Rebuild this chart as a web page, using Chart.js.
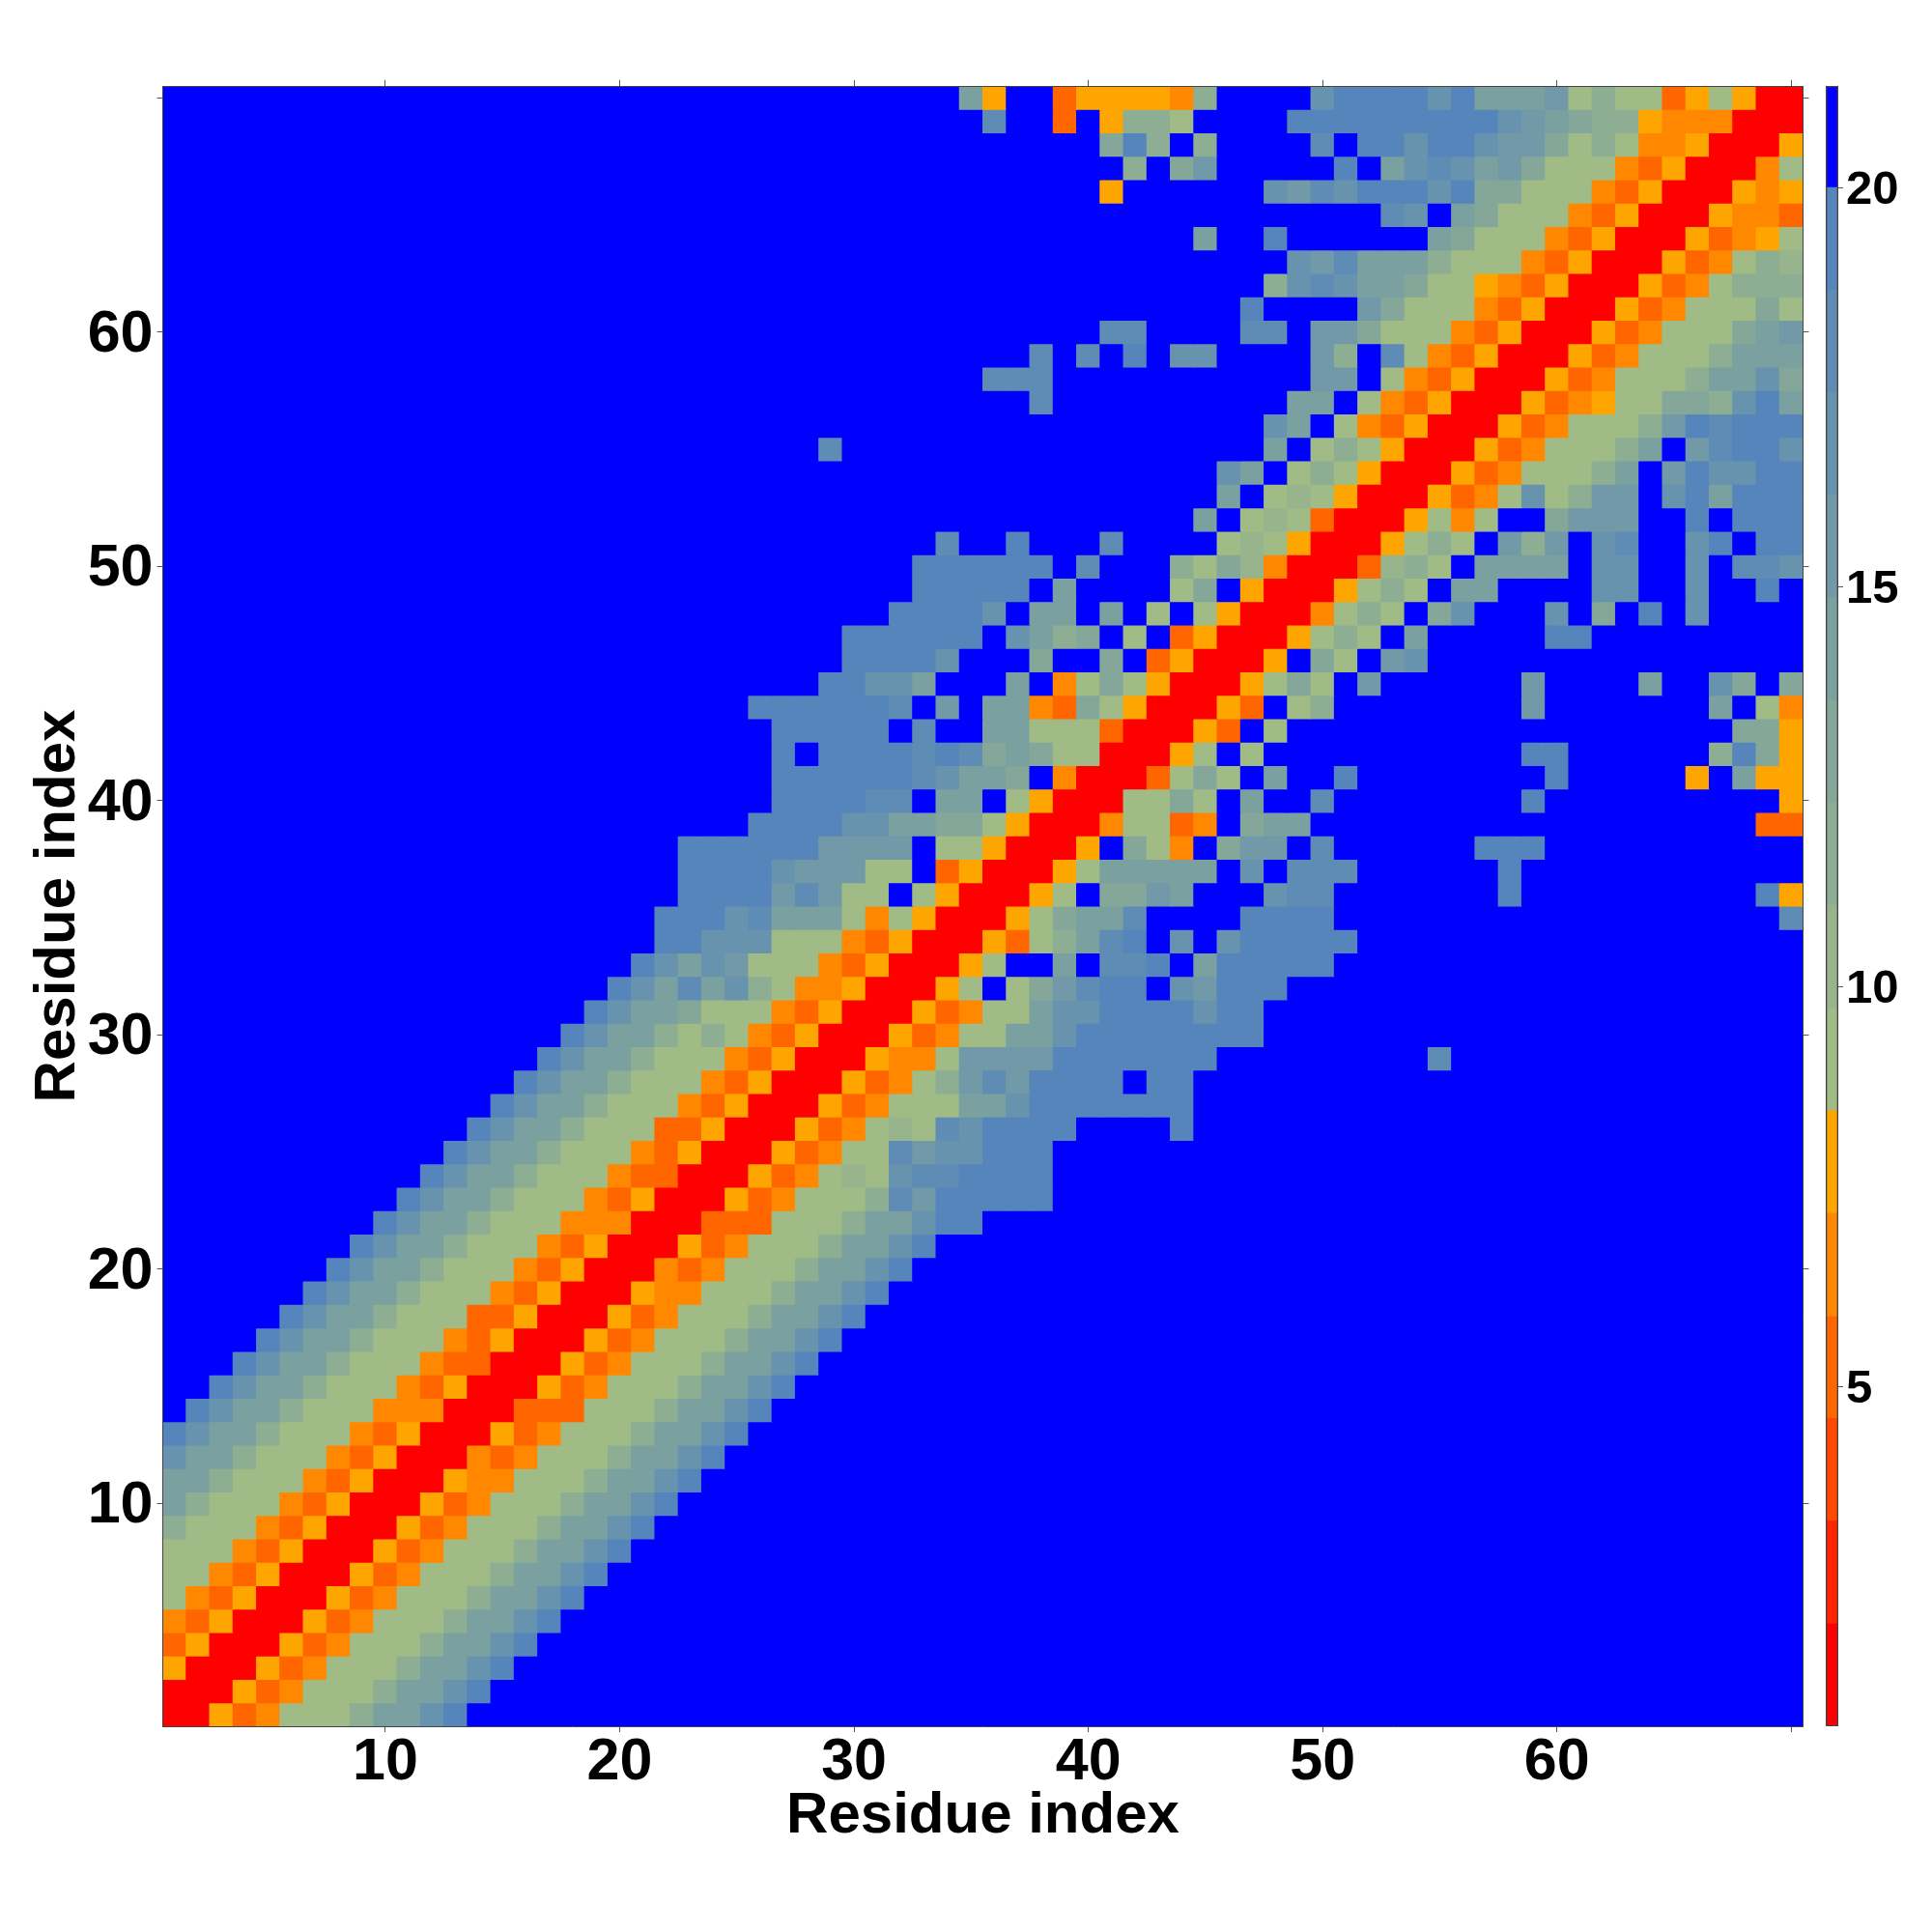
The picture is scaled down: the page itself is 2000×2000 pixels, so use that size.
<!DOCTYPE html>
<html>
<head>
<meta charset="utf-8">
<title>Residue distance map</title>
<script src="https://cdn.jsdelivr.net/npm/chart.js@4"></script>
<style>
html,body{margin:0;padding:0;background:#fff}
#wrap{position:relative;width:2000px;height:2000px;overflow:hidden;background:#fff}
#map{position:absolute;left:0;top:0}
#bar{position:absolute;left:1890px;top:0}
</style>
</head>
<body>
<div id="wrap">
<canvas id="map" width="2000" height="2000"></canvas>
<canvas id="bar" width="110" height="2000"></canvas>
</div>
<script>
/* Tick values and labels */
const axisTicks = [10,20,30,40,50,60,70];
const axisLabels = [10,20,30,40,50,60];
const colorbarTicks = [5,10,15,20];
const axisTitle = "Residue index";

/* Colour bands, lowest distance first */
const bandEdges = [0.75,2.03,3.32,4.60,5.88,7.17,8.45,9.73,11.02,12.30,13.58,14.87,16.15,17.43,18.72,20.00,21.27];
const bandColors = ["#ff0000","#ff2400","#ff4800","#ff6600","#ff8800","#ffa500","#a0bb85","#97b48c","#8dae92","#84a799","#7aa0a0","#7199a7","#6793ae","#5e8cb4","#5585bb","#0000ff"];
/* One letter per band in the row strings below, each with the band's central distance */
const bandLetters = "R?xDMAghijklmnoB";
const bandValues = [1.39,2.67,3.96,5.24,6.52,7.81,9.09,10.37,11.66,12.94,14.22,15.51,16.79,18.08,19.36,20.63];

/* Rows of the map. "column:letters"; cells not listed are beyond 20 (band B). */
const row01 = "1:RRADMgggikkmo";
const row02 = "1:RRRADMgggikkmo";
const row03 = "1:ARRRADMgggikkmo";
const row04 = "1:DARRRADMgggikkmo";
const row05 = "1:MDARRRADMgggikkmo";
const row06 = "1:gMDARRRADMgggikkmo";
const row07 = "1:ggMDARRRADMgggikkmo";
const row08 = "1:gggMDARRRADMgggikkmo";
const row09 = "1:igggMDARRRADMgggikkmo";
const row10 = "1:kigggMDARRRADMgggikkmo";
const row11 = "1:kkigggMDARRRAMMgggikkmo";
const row12 = "1:mkkigggMDARRRMDMgggikkmo";
const row13 = "1:omkkigggMDARRRADMgggikkmo";
const row14 = "2:omkkigggMMMRRRDDDgggikkmo";
const row15 = "3:omkkigggMDARRRADMgggikkmo";
const row16 = "4:omkkigggMDDRRRADMgggikkmo";
const row17 = "5:omkkigggMDARRRADMgggikkmo";
const row18 = "6:omkkigggDDARRRADMgggikkmo";
const row19 = "7:omkkigggMDARRRAMMgggikkmo";
const row20 = "8:omkkigggMDARRRMDMgggikkmo";
const row21 = "9:omkkigggMDARRRADMgggikkmo";
const row22 = "10:omkkigggMMMRRRDDDgggikkmoo";
const row23 = "11:omkkigggMDARRRADMggginlooooo";
const row24 = "12:omkkigggMDDRRRADMghgmnnoooo";
const row25 = "13:omkkigggMDARRRADMggnlmmooo";
const row26 = "14:omkkigggDDARRRADMghgnmoooo 44:o";
const row27 = "15:omkkigggMDARRRADMgggkkmooooooo";
const row28 = "16:omkkigggMDARRRADMgilnlooooBoo";
const row29 = "17:omkkigggMDARRRAMMgllllooooooo 55:n";
const row30 = "18:omkkigigMDARRRADMggkkmoooooooo";
const row31 = "19:omkkjgggMDARRRADMggkmmoooomoo";
const row32 = "20:omknkmigMMARRRAgBgjlnooBmlooo";
const row33 = "21:omkmlgggMDARRRAgBBkBnnoBkooooo";
const row34 = "22:oommmgggMDARRRADgiknoBmBmooooo";
const row35 = "22:ooomnkkkgMgARRRAgjkknBBBBoooo 70:n";
const row36 = "23:oooolnlggBgARRRAgBjjlkBBBmnn 58:o 69:oA";
const row37 = "23:oooomlllggBDARRRAgkkkkkBmBnnn 58:o";
const row38 = "23:oooooollllBggARRRABjgMBjllBn 57:ooo";
const row39 = "26:oooommkkjjgARRRMggDMBjkk 69:DD";
const row40 = "27:oooonnBkkBgARRRggjgBkBBn 59:o 70:A";
const row41 = "27:oooooonmkkjBMRRRDgjgBkBBo 60:o 66:ABkAA";
const row42 = "27:oBoooononjkjggRRRAgBg 59:oo 67:iojA";
const row43 = "27:oooooBnBBkkgggDRRRADBg 68:jjA";
const row44 = "26:oooooonBlBkkMDjgARRRADBgi 59:l 67:kBgM";
const row45 = "29:oommkBBBkBMgjgARRRAgjgBl 59:l 64:k 67:mjBj";
const row46 = "30:oooomBBBjBBjBDARRRABjgBlm";
const row47 = "30:ooooooBmkijBgBDARRRAgigBk 60:oo";
const row48 = "32:oooomBkkBkBgBgARRRMgigBjm 60:m 62:j 64:o 66:m";
const row49 = "33:oooooBkBBBBgjBARRRAgigBkk 62:mm 66:m 69:o";
const row50 = "33:ooooooBnBBBigjhMRRRDhigBkkkkBmmBBmBnnm";
const row51 = "34:n 37:o 41:n 46:ghgARRRAgigBlilBmnBBmoBoo";
const row52 = "45:kBghgDRRRAgMgBBjlllBBoBooo";
const row53 = "46:kBghgARRRADMgmgillBmokooo";
const row54 = "46:mkBgigARRRADMgggikBlommoo";
const row55 = "29:n 48:kBgigARRRADMgggikBlnoom";
const row56 = "48:mkBgMDARRRADMgggilonooo";
const row57 = "38:n 49:kkBgMDARRRADMAggjjimok";
const row58 = "36:nnn 50:llBgMDARRRADMgggikkmj";
const row59 = "38:n 40:n 42:o 44:mm 50:liBngMDARRRADMgggikkk";
const row60 = "41:nn 47:nn 50:lljgggMDARRRADMgggjkl";
const row61 = "47:o 52:ljgggMDARRRADMgggjg";
const row62 = "48:imnmkkjggAMDARRRADMgiii";
const row63 = "49:mlnkkkigggMDARRRADMgih";
const row64 = "45:k 48:o 55:kjgggMDARRRADMAg";
const row65 = "53:nmBkjgggMDARRRAMMD";
const row66 = "41:A 48:mlnmooomojjgggMDARRRAMA";
const row67 = "42:iBjl 51:o 53:kmnmkljgggMDARRRMg";
const row68 = "41:joiBi 50:n 52:oomoomlljgigMMARRRA";
const row69 = "36:n 39:D 41:Aiig 49:ooooooooomlkjiiAMMMRRR";
const row70 = "35:kABBDAAAAMi 50:moooomokkklgiggDAgARR";

const allRows = [row01,row02,row03,row04,row05,row06,row07,row08,row09,row10,
row11,row12,row13,row14,row15,row16,row17,row18,row19,row20,
row21,row22,row23,row24,row25,row26,row27,row28,row29,row30,
row31,row32,row33,row34,row35,row36,row37,row38,row39,row40,
row41,row42,row43,row44,row45,row46,row47,row48,row49,row50,
row51,row52,row53,row54,row55,row56,row57,row58,row59,row60,
row61,row62,row63,row64,row65,row66,row67,row68,row69,row70];

/* Turn the rows into {x, y, v} cells */
const cells = [];
allRows.forEach((text, r) => {
  const letters = new Array(70).fill("B");
  text.split(" ").forEach(seg => {
    const [start, run] = seg.split(":");
    for (let i = 0; i < run.length; i++) {
      const col = +start - 1 + i;
      if (col < 70) letters[col] = run[i];
    }
  });
  letters.forEach((ch, c) => {
    cells.push({x: c + 1, y: r + 1, v: bandValues[bandLetters.indexOf(ch)]});
  });
});

function bandOf(v) {
  for (let i = 0; i < bandColors.length; i++) if (v < bandEdges[i + 1]) return i;
  return bandColors.length - 1;
}

const FONT = "'Liberation Sans', Arial, sans-serif";
const tickColor = "#555555";
const frameColor = "#444444";

function setTicks(values) {
  return scale => { scale.ticks = values.map(v => ({value: v})); };
}

function axisBase(size, labelled) {
  return {
    type: "linear", min: 0.5, max: 70.5,
    afterBuildTicks: setTicks(axisTicks),
    afterFit: s => { if (s.isHorizontal()) s.height = size; else s.width = size; },
    grid: {drawOnChartArea: false, drawTicks: true, tickLength: 6, tickColor: tickColor, lineWidth: 1},
    border: {display: true, color: frameColor, width: 1, z: 2},
    ticks: {
      display: labelled, autoSkip: false, maxRotation: 0, minRotation: 0,
      color: "#000", padding: 4,
      font: {family: FONT, size: 61, weight: "bold"},
      callback: v => axisLabels.includes(v) ? String(v) : ""
    }
  };
}

const xAxis = axisBase(213, true);
xAxis.position = "bottom";
xAxis.ticks.padding = -4;
xAxis.title = {display: true, text: axisTitle, color: "#000", font: {family: FONT, size: 60, weight: "bold", lineHeight: 1}, padding: {top: 0, bottom: 90}};
const yAxis = axisBase(168.5, true);
yAxis.position = "left";
yAxis.ticks.labelOffset = 3;
yAxis.title = {display: true, text: axisTitle, color: "#000", font: {family: FONT, size: 60, weight: "bold", lineHeight: 1}, padding: {top: 30, bottom: 0}};
const xTop = axisBase(89, false);
xTop.position = "top"; xTop.axis = "x";
const yRight = axisBase(133.5, false);
yRight.position = "right"; yRight.axis = "y";

new Chart(document.getElementById("map"), {
  type: "scatter",
  data: {datasets: [{
    label: "Distance",
    data: cells,
    xAxisID: "x", yAxisID: "y",
    pointStyle: "rect",
    borderWidth: 0,
    pointBorderWidth: 0,
    clip: 0,
    pointRadius: ctx => {
      const s = ctx.chart.scales.x;
      return ((s.getPixelForValue(2) - s.getPixelForValue(1)) / 2 + 0.5) * Math.SQRT2;
    },
    pointBackgroundColor: ctx => bandColors[bandOf(ctx.raw.v)]
  }]},
  options: {
    responsive: false, animation: false, events: [],
    layout: {padding: 0},
    plugins: {legend: {display: false}, tooltip: {enabled: false}, title: {display: false}},
    scales: {x: xAxis, y: yAxis, xTop: xTop, yRight: yRight}
  }
});

/* Colour bar */
const barSets = bandColors.map((c, i) => ({
  data: [[bandEdges[i], bandEdges[i + 1]]],
  backgroundColor: c, borderWidth: 0, order: 2
}));
barSets.push({
  data: [[bandEdges[0], bandEdges[bandEdges.length - 1]]],
  backgroundColor: "rgba(0,0,0,0)", borderColor: frameColor, borderWidth: 1, borderSkipped: false, order: 1
});

new Chart(document.getElementById("bar"), {
  type: "bar",
  data: {labels: [""], datasets: barSets},
  options: {
    responsive: false, animation: false, events: [],
    layout: {padding: {top: 89, bottom: 213}},
    plugins: {legend: {display: false}, tooltip: {enabled: false}},
    datasets: {bar: {grouped: false, barPercentage: 1, categoryPercentage: 1}},
    scales: {
      x: {display: false, stacked: false},
      y: {
        type: "linear", position: "right",
        min: bandEdges[0], max: bandEdges[bandEdges.length - 1],
        afterBuildTicks: setTicks(colorbarTicks),
        afterFit: s => { s.width = 97; },
        grid: {drawOnChartArea: false, drawTicks: true, tickLength: 5, tickColor: tickColor},
        border: {display: false},
        ticks: {color: "#000", padding: 3, labelOffset: 3, autoSkip: false, font: {family: FONT, size: 49, weight: "bold"}, callback: v => String(v)}
      }
    }
  }
});
</script>
</body>
</html>
